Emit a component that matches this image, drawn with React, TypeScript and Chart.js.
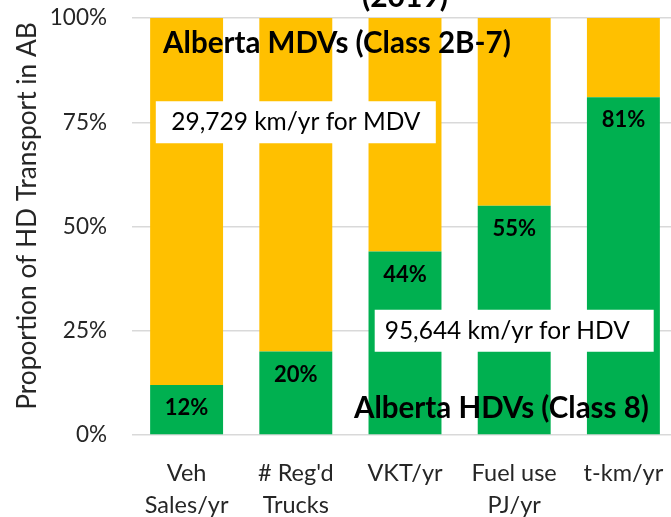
import React, { useEffect, useRef } from "react";
import { Chart, registerables } from "chart.js";

Chart.register(...registerables);

// ---- data ----
const categories: string[][] = [
  ["Veh", "Sales/yr"],
  ["# Reg'd", "Trucks"],
  ["VKT/yr"],
  ["Fuel use", "PJ/yr"],
  ["t-km/yr"],
];
const hdvShare = [12, 20, 44, 55, 81];
const mdvShare = [88, 80, 56, 45, 19];
const yTickStep = 25;
const titleText = "(2019)";
const yAxisTitle = "Proportion of HD Transport in AB";
const mdvLabel = "Alberta MDVs (Class 2B-7)";
const hdvLabel = "Alberta HDVs (Class 8)";
const mdvKmNote = "29,729 km/yr for MDV";
const hdvKmNote = "95,644 km/yr for HDV";

const FONT = "Lato, 'Open Sans', sans-serif";
const GREEN = "#00B050";
const YELLOW = "#FFC000";
const TEXT = "#262626";

const overlayPlugin = {
  id: "overlay",
  afterDatasetsDraw(chart: any) {
    const ctx = chart.ctx as CanvasRenderingContext2D;
    const xs = chart.scales.x;
    const ys = chart.scales.y;
    const area = chart.chartArea;
    ctx.save();

    // data labels on HDV bars (inside end)
    const meta = chart.getDatasetMeta(0);
    ctx.font = `bold 22px ${FONT}`;
    ctx.fillStyle = "#000";
    ctx.textAlign = "center";
    ctx.textBaseline = "middle";
    meta.data.forEach((bar: any, i: number) => {
      ctx.fillText(`${hdvShare[i]}%`, bar.x, bar.y + 23);
    });

    // white note boxes
    const drawBox = (text: string, cx: number, cy: number, w: number, h: number, align: "center" | "left") => {
      ctx.fillStyle = "#fff";
      ctx.fillRect(cx - w / 2, cy - h / 2, w, h);
      ctx.fillStyle = "#000";
      ctx.font = `24.5px ${FONT}`;
      ctx.textBaseline = "alphabetic";
      if (align === "center") {
        ctx.textAlign = "center";
        ctx.fillText(text, cx, cy + 8);
      } else {
        ctx.textAlign = "left";
        ctx.fillText(text, cx - w / 2 + 10, cy + 8);
      }
    };
    drawBox(mdvKmNote, xs.getPixelForValue(1), ys.getPixelForValue(75), 280, 42, "center");
    drawBox(hdvKmNote, xs.getPixelForValue(3), ys.getPixelForValue(25), 279, 42, "left");

    // big bold region labels
    ctx.fillStyle = "#000";
    ctx.font = `bold 29.5px ${FONT}`;
    ctx.textAlign = "left";
    ctx.textBaseline = "alphabetic";
    ctx.fillText(mdvLabel, xs.getPixelForValue(-0.215), ys.getPixelForValue(91.6));
    ctx.fillText(hdvLabel, xs.getPixelForValue(1.533), ys.getPixelForValue(4.1));

    // title (mostly cut off above the canvas)
    ctx.textAlign = "center";
    ctx.font = `bold 30px ${FONT}`;
    ctx.fillText(titleText, (area.left + area.right) / 2, 7);

    // y axis title
    ctx.save();
    ctx.translate(28, 216);
    ctx.rotate(-Math.PI / 2);
    ctx.font = `26.3px ${FONT}`;
    ctx.fillStyle = TEXT;
    ctx.textAlign = "center";
    ctx.textBaseline = "middle";
    ctx.fillText(yAxisTitle, 0, 0);
    ctx.restore();

    ctx.restore();
  },
};

export default function App() {
  const ref = useRef<HTMLCanvasElement | null>(null);
  useEffect(() => {
    if (!ref.current) return;
    const chart = new Chart(ref.current, {
      type: "bar",
      data: {
        labels: categories as any,
        datasets: [
          {
            label: "HDV",
            data: hdvShare,
            backgroundColor: GREEN,
            barPercentage: 0.668,
            categoryPercentage: 1,
          },
          {
            label: "MDV",
            data: mdvShare,
            backgroundColor: YELLOW,
            barPercentage: 0.668,
            categoryPercentage: 1,
          },
        ],
      },
      options: {
        responsive: false,
        animation: false,
        devicePixelRatio: 1,
        layout: { padding: { top: 18, right: 2, left: 0, bottom: 0 } },
        plugins: {
          legend: { display: false },
          tooltip: { enabled: false },
          title: { display: false },
        },
        scales: {
          x: {
            stacked: true,
            grid: { display: false },
            border: { display: false },
            ticks: {
              padding: 14,
              color: TEXT,
              font: { family: FONT, size: 23.5, lineHeight: "32px" } as any,
              maxRotation: 0,
              autoSkip: false,
            },
            afterFit: (s: any) => {
              s.height = 82;
            },
          },
          y: {
            stacked: true,
            min: 0,
            max: 100,
            grid: { color: "#D9D9D9", lineWidth: 1.5, drawTicks: false },
            border: { display: false },
            ticks: {
              stepSize: yTickStep,
              padding: 25,
              color: TEXT,
              font: { family: FONT, size: 22.5 },
              callback: (v: any) => `${v}%`,
            },
            afterFit: (s: any) => {
              s.width = 132;
              s.paddingTop = 0;
              s.paddingBottom = 0;
            },
          },
        },
      },
      plugins: [overlayPlugin],
    });
    return () => chart.destroy();
  }, []);
  return (
    <div
      style={{
        position: "fixed",
        left: 0,
        top: 0,
        width: 671,
        height: 517,
        overflow: "hidden",
        background: "#fff",
      }}
    >
      <canvas ref={ref} width={680} height={517} style={{ display: "block" }} />
    </div>
  );
}
